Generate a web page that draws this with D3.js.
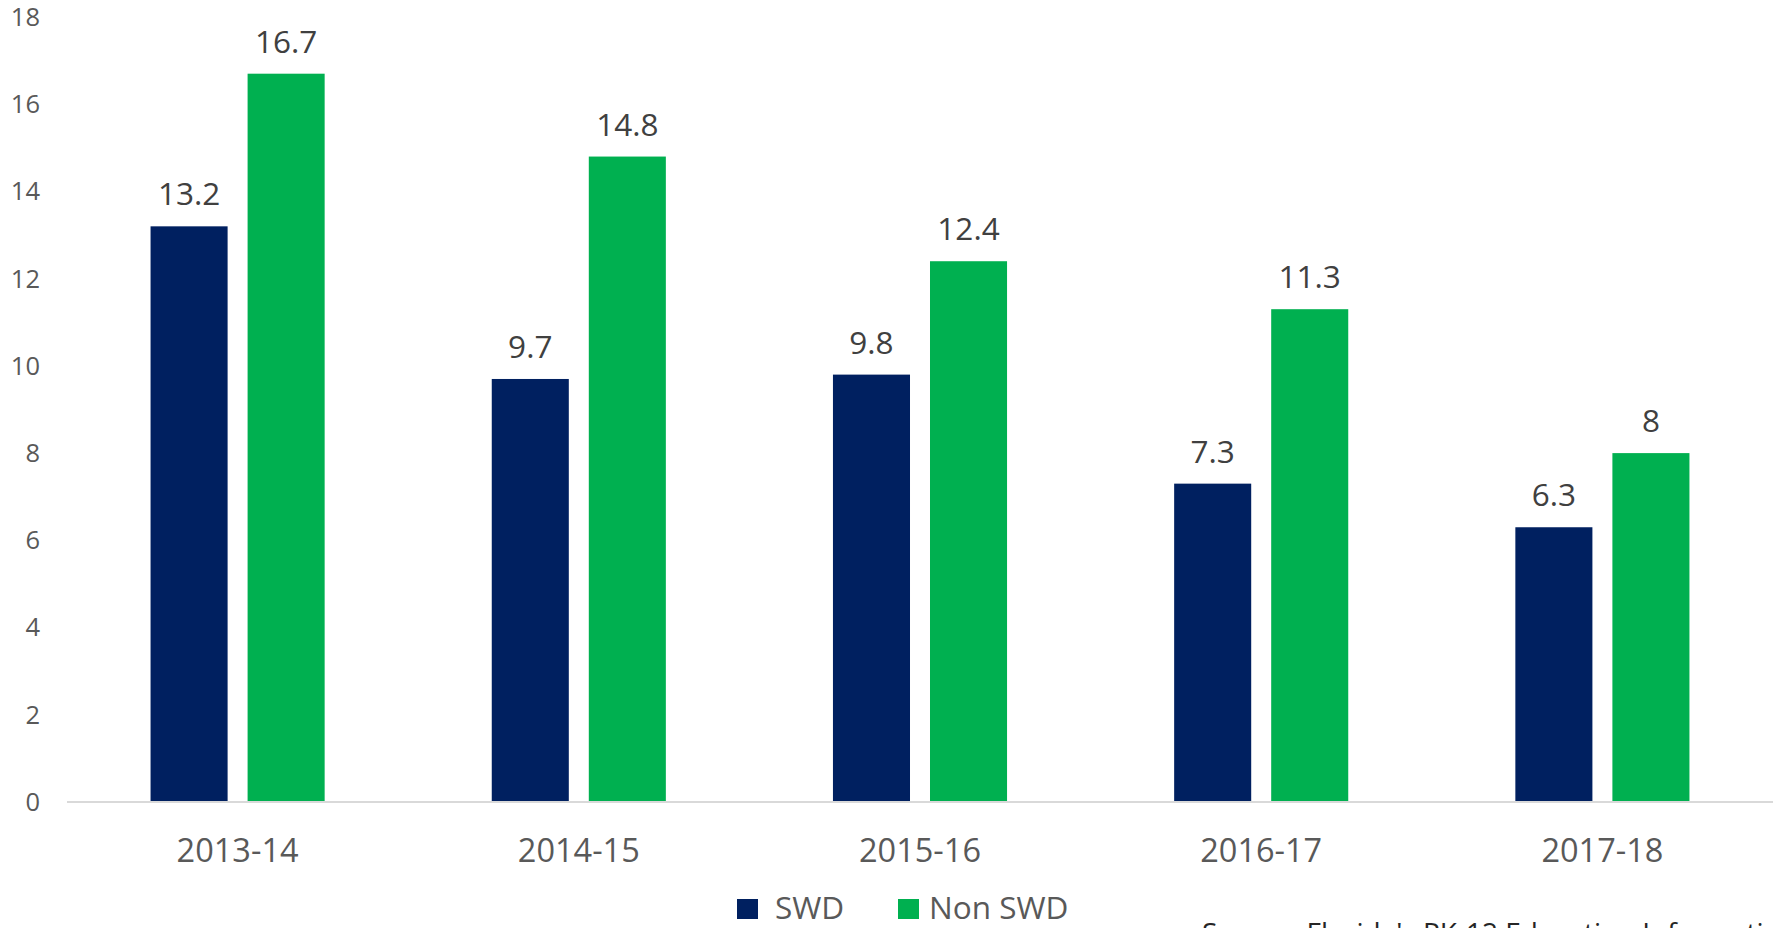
<!DOCTYPE html>
<html>
<head>
<meta charset="utf-8">
<script src="https://cdn.jsdelivr.net/npm/d3@7"></script>
<style>
  body { margin: 0; background: #fff; }
  svg { display: block; overflow: hidden; }
  text { font-family: "Open Sans", "Noto Sans", sans-serif; }
</style>
</head>
<body>
<script>
// chart values
const years = ['2013-14', '2014-15', '2015-16', '2016-17', '2017-18']
const seriesNames = ['SWD', 'Non SWD']
const swd = [13.2, 9.7, 9.8, 7.3, 6.3]
const nonSwd = [16.7, 14.8, 12.4, 11.3, 8]
const yTicks = [0, 2, 4, 6, 8, 10, 12, 14, 16, 18]
const colors = ['#002060', '#00B050']
const source = "Source: Florida's PK-12 Education Information Portal"

document.addEventListener('DOMContentLoaded', init)

function init() {
  var width = 1773, height = 928
  var margin = {top: 17, right: 0, bottom: 126, left: 67}

  var rows = years.map(function (y, i) {
    return {year: y, values: [swd[i], nonSwd[i]]}
  })

  var svg = d3.select('body')
      .append('svg')
      .attr('width', width)
      .attr('height', height)

  var x0 = d3.scaleBand()
      .domain(years)
      .range([margin.left, width - margin.right])
      .padding(0)

  var x1 = d3.scaleBand()
      .domain([0, 1])
      .range([0, x0.bandwidth()])
      .paddingInner(0.206)
      .paddingOuter(0.861)

  var y = d3.scaleLinear()
      .domain([0, 18])
      .range([height - margin.bottom, margin.top])

  // y tick labels only, no axis line or gridlines
  svg.append('g')
    .selectAll('text')
    .data(yTicks)
    .enter().append('text')
    .attr('x', 40)
    .attr('y', function (d) { return y(d) })
    .attr('dy', '0.35em')
    .attr('text-anchor', 'end')
    .attr('font-size', 25.5)
    .attr('fill', '#595959')
    .text(function (d) { return d })

  // bars
  var groups = svg.append('g')
    .selectAll('g')
    .data(rows)
    .enter().append('g')
    .attr('transform', function (d) { return 'translate(' + x0(d.year) + ',0)' })

  groups.selectAll('rect')
    .data(function (d) { return d.values })
    .enter().append('rect')
    .attr('x', function (d, i) { return x1(i) })
    .attr('y', function (d) { return y(d) })
    .attr('width', x1.bandwidth())
    .attr('height', function (d) { return y(0) - y(d) })
    .attr('fill', function (d, i) { return colors[i] })

  groups.selectAll('text.val')
    .data(function (d) { return d.values })
    .enter().append('text')
    .attr('class', 'val')
    .attr('x', function (d, i) { return x1(i) + x1.bandwidth() / 2 })
    .attr('y', function (d) { return y(d) - 21 })
    .attr('text-anchor', 'middle')
    .attr('font-size', 31.5)
    .attr('fill', '#404040')
    .text(function (d) { return d })

  // x axis
  var xAxis = d3.axisBottom(x0).tickSize(0).tickPadding(0)
  var gx = svg.append('g')
    .attr('transform', 'translate(0,' + y(0) + ')')
    .call(xAxis)
  gx.select('.domain')
    .attr('stroke', '#d9d9d9')
    .attr('stroke-width', 2)
    .attr('d', 'M' + margin.left + ',0H' + width)
  gx.selectAll('.tick text')
    .attr('y', 60)
    .attr('dy', 0)
    .attr('font-size', 32.5)
    .attr('font-family', '"Open Sans", "Noto Sans", sans-serif')
    .attr('fill', '#595959')

  // legend, close to the bottom edge
  var legendX = [737, 898]
  var items = svg.append('g')
    .selectAll('g')
    .data(seriesNames)
    .enter().append('g')
    .attr('transform', function (d, i) { return 'translate(' + legendX[i] + ',899)' })
  items.append('rect')
    .attr('width', 21)
    .attr('height', 20)
    .attr('fill', function (d, i) { return colors[i] })
  items.append('text')
    .attr('x', function (d, i) { return i == 0 ? 38 : 31 })
    .attr('y', 20)
    .attr('font-size', 31.5)
    .attr('fill', '#595959')
    .text(function (d) { return d })

  // source note, partly cut by the bottom edge in the original
  svg.append('text')
    .attr('x', 1202)
    .attr('y', 943)
    .attr('font-size', 28)
    .attr('fill', '#262626')
    .text(source)
}
</script>
</body>
</html>
